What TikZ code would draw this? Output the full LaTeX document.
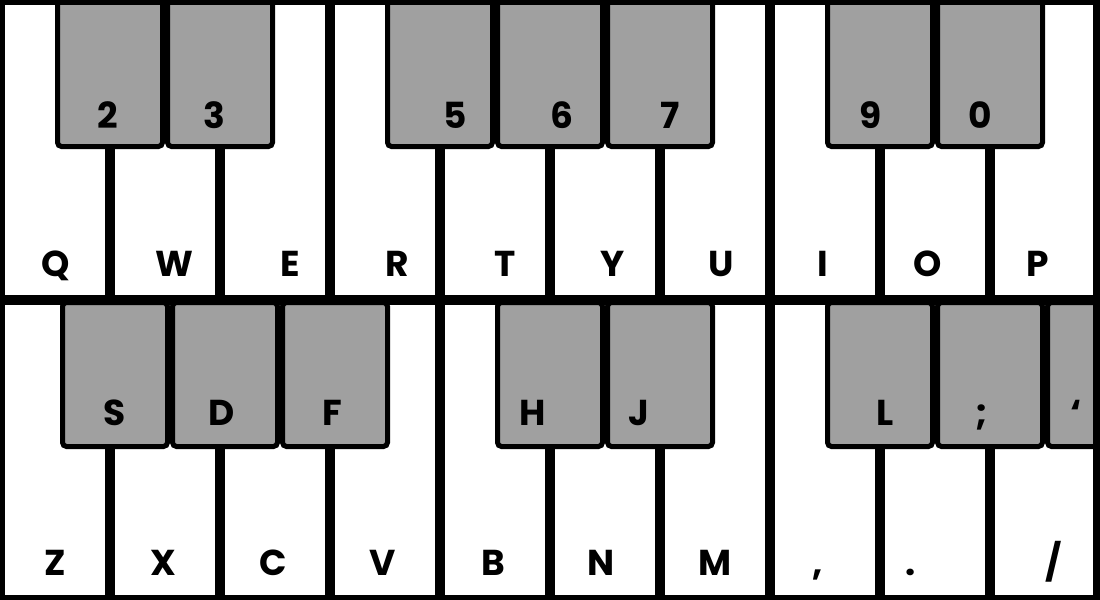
\documentclass[tikz,border=0pt]{standalone}
\usepackage{fontspec}
\setmainfont{Poppins}
\usepackage{tikz}
\definecolor{keygrey}{RGB}{160,160,160}

\begin{document}
\begin{tikzpicture}[x=0.5pt,y=-0.5pt,
	sep/.style={line width=5pt, black},
	blackkey/.style={draw=black, line width=2.5pt, fill=keygrey, rounded corners=2pt},
	lab/.style={font=\bfseries\fontsize{18}{18}\selectfont, anchor=base, inner sep=0pt}]
	\useasboundingbox (0,0) rectangle (1100,600);
	\clip (0,0) rectangle (1100,600);
	\fill [white] (0,0) rectangle (1100,600);

	% upper keyboard
	\draw [sep] (110,0) to (110,300);
	\draw [sep] (220,0) to (220,300);
	\draw [sep] (330,0) to (330,300);
	\draw [sep] (440,0) to (440,300);
	\draw [sep] (550,0) to (550,300);
	\draw [sep] (660,0) to (660,300);
	\draw [sep] (770,0) to (770,300);
	\draw [sep] (880,0) to (880,300);
	\draw [sep] (990,0) to (990,300);

	\draw [blackkey] (57.5,-10) rectangle (162.5,146.5);
	\draw [blackkey] (167.5,-10) rectangle (272.5,146.5);
	\draw [blackkey] (387.5,-10) rectangle (492.5,146.5);
	\draw [blackkey] (497.5,-10) rectangle (602.5,146.5);
	\draw [blackkey] (607.5,-10) rectangle (712.5,146.5);
	\draw [blackkey] (827.5,-10) rectangle (932.5,146.5);
	\draw [blackkey] (937.5,-10) rectangle (1042.5,146.5);

	% lower keyboard
	\draw [sep] (110,300) to (110,600);
	\draw [sep] (220,300) to (220,600);
	\draw [sep] (330,300) to (330,600);
	\draw [sep] (440,300) to (440,600);
	\draw [sep] (550,300) to (550,600);
	\draw [sep] (660,300) to (660,600);
	\draw [sep] (770,300) to (770,600);
	\draw [sep] (880,300) to (880,600);
	\draw [sep] (990,300) to (990,600);

	\draw [blackkey] (62.5,302.5) rectangle (167.5,446.5);
	\draw [blackkey] (172.5,302.5) rectangle (277.5,446.5);
	\draw [blackkey] (282.5,302.5) rectangle (387.5,446.5);
	\draw [blackkey] (497.5,302.5) rectangle (602.5,446.5);
	\draw [blackkey] (607.5,302.5) rectangle (712.5,446.5);
	\draw [blackkey] (827.5,302.5) rectangle (932.5,446.5);
	\draw [blackkey] (937.5,302.5) rectangle (1042.5,446.5);
	\draw [blackkey] (1047.5,302.5) rectangle (1152.5,446.5);

	\draw [sep] (0,300) to (1100,300);
	\draw [sep] (0,0) rectangle (1098,600);

	% labels, upper
	\node (k2) [lab] at (108,128) {2};
	\node (k3) [lab] at (214,128) {3};
	\node (k5) [lab] at (455,128) {5};
	\node (k6) [lab] at (562,128) {6};
	\node (k7) [lab] at (670,128) {7};
	\node (k9) [lab] at (871,128) {9};
	\node (k0) [lab] at (980,128) {0};
	\node (kQ) [lab] at (56,276) {Q};
	\node (kW) [lab] at (174,276) {W};
	\node (kE) [lab] at (290,276) {E};
	\node (kR) [lab] at (397,276) {R};
	\node (kT) [lab] at (505,276) {T};
	\node (kY) [lab] at (613,276) {Y};
	\node (kU) [lab] at (721,276) {U};
	\node (kI) [lab] at (823,276) {I};
	\node (kO) [lab] at (928,276) {O};
	\node (kP) [lab] at (1038,276) {P};

	% labels, lower
	\node (kS) [lab] at (115,425) {S};
	\node (kD) [lab] at (222,425) {D};
	\node (kF) [lab] at (332,425) {F};
	\node (kH) [lab] at (533,425) {H};
	\node (kJ) [lab] at (639,425) {J};
	\node (kL) [lab] at (885,425) {L};
	\node (ksemi) [lab] at (982,425) {;};
	\node (kquote) [lab] at (1076,425) {‘};
	\node (kZ) [lab] at (55,575) {Z};
	\node (kX) [lab] at (163,575) {X};
	\node (kC) [lab] at (273,575) {C};
	\node (kV) [lab] at (383,575) {V};
	\node (kB) [lab] at (493,575) {B};
	\node (kN) [lab] at (601,575) {N};
	\node (kM) [lab] at (715,575) {M};
	\node (kcomma) [lab] at (818,575) {,};
	\node (kdot) [lab] at (911,575) {.};
	\node (kslash) [lab] at (1054,575) {/};

\end{tikzpicture}
\end{document}
